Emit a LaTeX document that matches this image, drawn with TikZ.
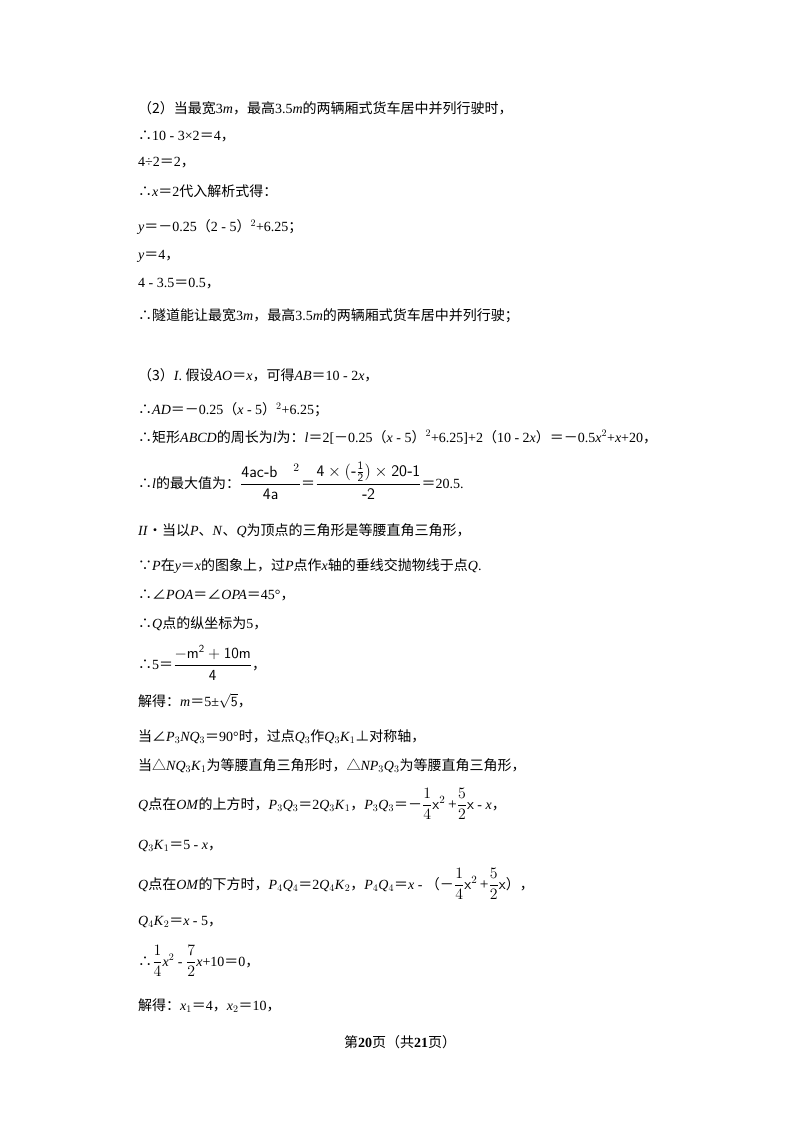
\documentclass[tikz,border=0pt]{standalone}
\usepackage{amsmath}
\usepackage{graphicx}
\usepackage{fontspec}
\setmainfont{Liberation Serif}
\newfontfamily\cjk{Noto Sans CJK SC}
\newcommand{\C}[1]{{\cjk #1}}
\newcommand{\I}[1]{\textit{#1}}
\newcommand{\E}{{\cjk ＝}}
\newcommand{\M}{{\cjk －}}
\begin{document}
\begin{tikzpicture}[x=1pt,y=-1pt,every node/.style={anchor=west,inner sep=0,font=\fontsize{14}{16}\selectfont}]
\useasboundingbox (0,0) rectangle (800,1132);
\fill[white] (0,0) rectangle (800,1132);
\node (l1) at (138,108) {\C{（2）当最宽}3\I{m}\C{，最高}3.5\I{m}\C{的两辆厢式货车居中并列行驶时，}};
\node (l2) at (138,136) {\C{∴}10 - 3×2\E4\C{，}};
\node (l3) at (138,163) {4÷2\E2\C{，}};
\node (l4) at (138,191) {\C{∴}\I{x}\E2\C{代入解析式得：}};
\node (l5) at (138,227) {\I{y}\E\M0.25\C{（}2 - 5\C{）}$^{2}$+6.25\C{；}};
\node (l6) at (138,256) {\I{y}\E4\C{，}};
\node (l7) at (138,284) {4 - 3.5\E0.5\C{，}};
\node (l8) at (138,316) {\C{∴隧道能让最宽}3\I{m}\C{，最高}3.5\I{m}\C{的两辆厢式货车居中并列行驶；}};
\node (l9) at (138,375) {\C{（3）}\I{I}. \C{假设}\I{AO}\E\I{x}\C{，可得}\I{AB}\E10 - 2\I{x}\C{，}};
\node (l10) at (138,410) {\C{∴}\I{AD}\E\M0.25\C{（}\I{x} - 5\C{）}$^{2}$+6.25\C{；}};
\node (l11) at (138,437) {\C{∴矩形}\I{ABCD}\C{的周长为}\I{l}\C{为：}\I{l}\E2[\M0.25\C{（}\I{x} - 5\C{）}$^{2}$+6.25]+2\C{（}10 - 2\I{x}\C{）}\E\M0.5\I{x}$^{2}$+\I{x}+20\C{，}};
\node (l12) at (138,481) {\C{∴}\I{l}\C{的最大值为：}\scalebox{1.15}{$\dfrac{\mathsf{4ac\text{-}b}\quad^{2}}{\mathsf{4a}}$}\E\scalebox{1.15}{$\dfrac{\mathsf{4\times(\text{-}\frac{1}{2})\times20\text{-}1}}{\mathsf{\text{-}2}}$}\E20.5.};
\node (l13) at (138,531) {\I{II}\C{•当以}\I{P}\C{、}\I{N}\C{、}\I{Q}\C{为顶点的三角形是等腰直角三角形，}};
\node (l14) at (138,566) {\C{∵}\I{P}\C{在}\I{y}\E\I{x}\C{的图象上，过}\I{P}\C{点作}\I{x}\C{轴的垂线交抛物线于点}\I{Q}.};
\node (l15) at (138,595) {\C{∴∠}\I{POA}\E\C{∠}\I{OPA}\E45°\C{，}};
\node (l16) at (138,624) {\C{∴}\I{Q}\C{点的纵坐标为}5\C{，}};
\node (l17) at (138,663) {\C{∴}5\E\scalebox{1.1}{$\dfrac{\mathsf{-m^{2}+10m}}{\mathsf{4}}$}\C{，}};
\node (l18) at (138,701) {\C{解得：}\I{m}\E5±$\sqrt{\mathsf{5}}$\C{，}};
\node (l19) at (138,737) {\C{当∠}\I{P}$_3$\I{NQ}$_3$\E90°\C{时，过点}\I{Q}$_3$\C{作}\I{Q}$_3$\I{K}$_1$\C{⊥对称轴，}};
\node (l20) at (138,766) {\C{当△}\I{NQ}$_3$\I{K}$_1$\C{为等腰直角三角形时，△}\I{NP}$_3$\I{Q}$_3$\C{为等腰直角三角形，}};
\node (l21) at (138,804) {\I{Q}\C{点在}\I{OM}\C{的上方时，}\I{P}$_3$\I{Q}$_3$\E2\I{Q}$_3$\I{K}$_1$\C{，}\I{P}$_3$\I{Q}$_3$\E\M\scalebox{1.1}{$\dfrac{1}{4}\mathsf{x}^{2}$\,+$\dfrac{5}{2}\mathsf{x}$} - \I{x}\C{，}};
\node (l22) at (138,846) {\I{Q}$_3$\I{K}$_1$\E5 - \I{x}\C{，}};
\node (l23) at (138,884) {\I{Q}\C{点在}\I{OM}\C{的下方时，}\I{P}$_4$\I{Q}$_4$\E2\I{Q}$_4$\I{K}$_2$\C{，}\I{P}$_4$\I{Q}$_4$\E\I{x} - \C{（}\M\scalebox{1.1}{$\dfrac{1}{4}\mathsf{x}^{2}$\,+$\dfrac{5}{2}\mathsf{x}$}\C{），}};
\node (l24) at (138,922) {\I{Q}$_4$\I{K}$_2$\E\I{x} - 5\C{，}};
\node (l25) at (138,961) {\C{∴}\scalebox{1.1}{$\dfrac{1}{4}$}\I{x}$^{2}$ - \scalebox{1.1}{$\dfrac{7}{2}$}\I{x}+10\E0\C{，}};
\node (l26) at (138,1006) {\C{解得：}\I{x}$_1$\E4\C{，}\I{x}$_2$\E10\C{，}};
\node[anchor=center] (ft) at (400,1042) {\C{第}\textbf{20}\C{页（共}\textbf{21}\C{页）}};
\end{tikzpicture}
\end{document}
